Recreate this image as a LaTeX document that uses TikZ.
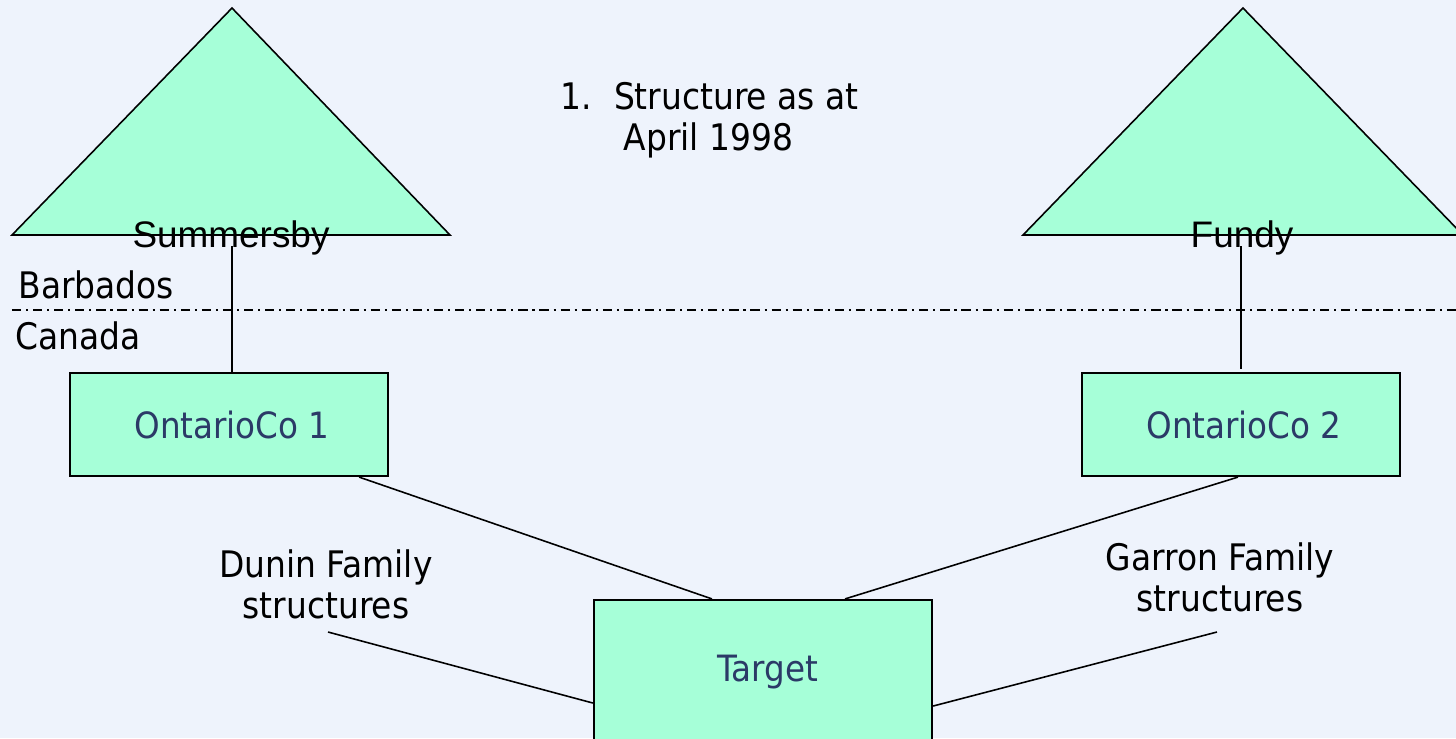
\documentclass[tikz,border=0pt]{standalone}
\usepackage{fontspec}
\setmainfont{DejaVu Sans Condensed}
\newfontfamily\arialfont{Liberation Sans}
\usetikzlibrary{positioning}
\definecolor{bgcol}{HTML}{EEF3FC}
\definecolor{boxfill}{HTML}{A6FFD8}
\definecolor{boxtext}{HTML}{2B3A67}

\begin{document}
\begin{tikzpicture}[x=0.01cm,y=-0.01cm,
		entity/.style={draw,line width=0.6pt,fill=boxfill,text=boxtext,font=\fontsize{10.3}{12}\selectfont,minimum width=3.18cm,minimum height=1.03cm},
		tri/.style={draw,line width=0.45pt,fill=boxfill},
		link/.style={draw,line width=0.45pt},
		owner/.style={font=\arialfont\fontsize{10.5}{12}\selectfont,inner sep=0pt},
		label/.style={font=\fontsize{10.4}{11.7}\selectfont,align=center,inner sep=0pt}]
		\useasboundingbox (0,0) rectangle (1456,738);
		\fill[bgcol] (0,0) rectangle (1456,738);
		\clip (0,0) rectangle (1456,738);
		% shareholders in Barbados
		\draw[tri] (12,235) -- (232,8) -- (450,235) -- cycle;
		\draw[tri] (1023,235) -- (1243,8) -- (1463,235) -- cycle;
		\node[owner] (summersby) at (231,238) {Summersby};
		\node[owner] (fundy) at (1242,238) {Fundy};
		% border
		\draw[line width=0.35pt,dash pattern=on 2.6pt off 1.4pt on 0.6pt off 1.4pt] (12,310) -- (1456,310);
		\node[label,anchor=west] (barbados) at (18,285) {Barbados};
		\node[label,anchor=west] (canada) at (15,336) {Canada};
		% companies
		\node[entity] (ontario1) at (229,424.5) {\hspace{0.06cm}OntarioCo 1};
		\node[entity] (ontario2) at (1241,424.5) {\hspace{0.06cm}OntarioCo 2};
		\node[entity,minimum width=3.38cm,minimum height=1.44cm] (target) at (763,672) {\hspace{0.1cm}Target};
		\node[label] (dunin) at (326,584) {Dunin Family\\structures};
		\node[label] (garron) at (1220,577) {Garron Family\\structures};
		\node[label,align=left,anchor=west] (title) at (560,120) {1.\hspace{0.6em}Structure as at\\\hphantom{1.\hspace{0.87em}}April 1998};
		\coordinate (dunin end) at (328,632);
		\coordinate (garron end) at (1217,632);
		% ownership links
		\draw[link] ([xshift=0.01cm,yshift=-0.08cm]summersby.center) -- ([xshift=0.01cm]summersby.center |- ontario1.north);
		\draw[link] ([xshift=-0.01cm,yshift=-0.08cm]fundy.center) -- ([yshift=0.03cm]ontario2.north);
		\draw[link] ([xshift=-0.3cm]ontario1.south east) -- ([xshift=-0.51cm]target.north);
		\draw[link] ([xshift=-0.03cm]ontario2.south) -- ([xshift=0.82cm]target.north);
		\draw[link] (dunin end) -- ([yshift=-0.31cm]target.west);
		\draw[link] (garron end) -- ([yshift=-0.34cm]target.east);
\end{tikzpicture}
\end{document}
